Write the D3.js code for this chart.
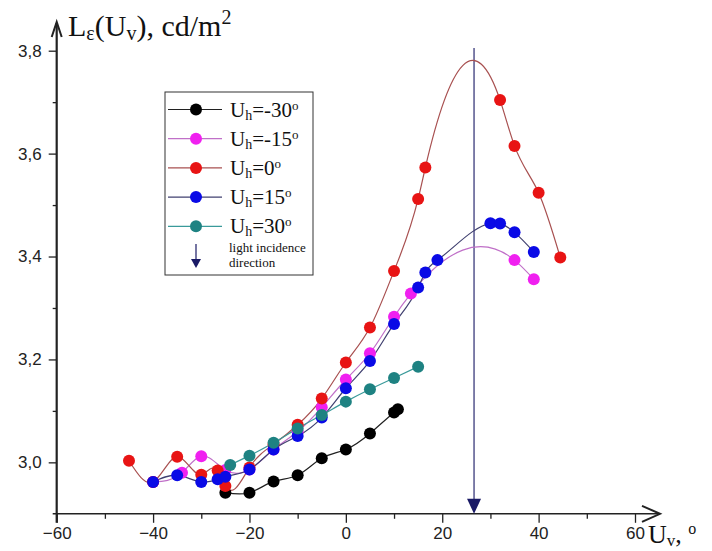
<!DOCTYPE html>
<html>
<head>
<meta charset="utf-8">
<script src="https://cdn.jsdelivr.net/npm/d3@7"></script>
<style>
  body { margin: 0; background: #fff; }
  svg { display: block; }
</style>
</head>
<body>
<div id="chart"></div>
<script>
// U_v angle (deg) and luminance (cd/m2) for each U_h series
const blackX = [-25, -20, -15, -10, -5, 0, 5, 10, 10.8];
const blackY = [2.941, 2.941, 2.963, 2.975, 3.008, 3.025, 3.056, 3.097, 3.103];

const magentaX = [-40, -34, -30, -25, -20, -15, -10, -5, 0, 5, 10, 13.5, 35, 39];
const magentaY = [2.962, 2.98, 3.012, 2.985, 2.986, 3.025, 3.06, 3.107, 3.161, 3.212, 3.283, 3.328, 3.393, 3.356];

const redX = [-45, -40, -35, -30, -26.6, -25, -20, -15, -10, -5, 0, 5, 10, 15, 16.5, 32, 35, 40, 44.5];
const redY = [3.003, 2.962, 3.011, 2.976, 2.984, 2.954, 2.99, 3.035, 3.073, 3.124, 3.194, 3.262, 3.372, 3.512, 3.573, 3.704, 3.615, 3.524, 3.398];

const blueX = [-40, -35, -30, -26.6, -25, -20, -15, -10, -5, 0, 5, 10, 15, 16.5, 19, 30, 32, 35, 39];
const blueY = [2.962, 2.975, 2.962, 2.967, 2.972, 2.986, 3.025, 3.051, 3.087, 3.144, 3.197, 3.269, 3.34, 3.369, 3.393, 3.4645, 3.464, 3.447, 3.409];

const tealX = [-24, -20, -15, -10, -5, 0, 5, 10, 15];
const tealY = [2.995, 3.013, 3.038, 3.066, 3.092, 3.118, 3.142, 3.164, 3.186];

const seriesNames = ["-30", "-15", "0", "15", "30"];
const lightDirection = 26.6;

const xTicks = [-60, -40, -20, 0, 20, 40, 60];
const xMinorTicks = [-50, -30, -10, 10, 30, 50];
const yTicks = [3.0, 3.2, 3.4, 3.6, 3.8];
const yMinorTicks = [3.1, 3.3, 3.5, 3.7];

const series = [
  { name: seriesNames[0], xs: blackX, ys: blackY, fill: "#000000", stroke: "#202020" },
  { name: seriesNames[1], xs: magentaX, ys: magentaY, fill: "#f020f0", stroke: "#c070c8" },
  { name: seriesNames[2], xs: redX, ys: redY, fill: "#e81414", stroke: "#a85050" },
  { name: seriesNames[3], xs: blueX, ys: blueY, fill: "#0a0ae6", stroke: "#404070" },
  { name: seriesNames[4], xs: tealX, ys: tealY, fill: "#1e8282", stroke: "#3a9a9a" },
];

// natural cubic spline of y over x (like Origin's "Spline" connect),
// emitted as bezier segments
function curveSplineX(context) {
  let xs, ys;
  return {
    areaStart() {},
    areaEnd() {},
    lineStart() { xs = []; ys = []; },
    point(px, py) { xs.push(+px); ys.push(+py); },
    lineEnd() {
      const n = xs.length;
      if (!n) return;
      context.moveTo(xs[0], ys[0]);
      if (n === 1) return;
      if (n === 2) { context.lineTo(xs[1], ys[1]); return; }
      const h = [];
      for (let i = 0; i < n - 1; i++) h.push(xs[i + 1] - xs[i]);
      // solve for second derivatives, natural ends
      const a = new Array(n).fill(0), b = new Array(n).fill(1), c = new Array(n).fill(0), r = new Array(n).fill(0);
      for (let i = 1; i < n - 1; i++) {
        a[i] = h[i - 1];
        b[i] = 2 * (h[i - 1] + h[i]);
        c[i] = h[i];
        r[i] = 6 * ((ys[i + 1] - ys[i]) / h[i] - (ys[i] - ys[i - 1]) / h[i - 1]);
      }
      for (let i = 1; i < n; i++) {
        const m = a[i] / b[i - 1];
        b[i] -= m * c[i - 1];
        r[i] -= m * r[i - 1];
      }
      const M = new Array(n).fill(0);
      M[n - 1] = r[n - 1] / b[n - 1];
      for (let i = n - 2; i >= 0; i--) M[i] = (r[i] - c[i] * M[i + 1]) / b[i];
      for (let i = 0; i < n - 1; i++) {
        const s = (ys[i + 1] - ys[i]) / h[i];
        const d0 = s - h[i] * (2 * M[i] + M[i + 1]) / 6;
        const d1 = s + h[i] * (M[i] + 2 * M[i + 1]) / 6;
        const k = h[i] / 3;
        context.bezierCurveTo(xs[i] + k, ys[i] + d0 * k, xs[i + 1] - k, ys[i + 1] - d1 * k, xs[i + 1], ys[i + 1]);
      }
    },
  };
}

const width = 712;
const height = 551;

const svg = d3
  .select("#chart")
  .append("svg")
  .attr("width", width)
  .attr("height", height);

const x = d3.scaleLinear().domain([-60, 60]).range([56.7, 635]);
const y = d3.scaleLinear().domain([2.9, 3.8]).range([513.8, 50.7]);

const comma = d3.formatLocale({ decimal: ",", thousands: " ", grouping: [3], currency: ["", ""] });
const fmtY = comma.format(".1f");

// axes
const xAxis = svg
  .append("g")
  .attr("transform", `translate(0,${y(2.9)})`)
  .call(d3.axisBottom(x).tickValues(xTicks).tickSize(9).tickSizeOuter(0).tickPadding(4));
xAxis.select(".domain").remove();
xAxis.selectAll("line").attr("stroke", "#222").attr("stroke-width", 1.3);
xAxis.selectAll("text")
  .attr("font-family", "Liberation Sans, Arial, sans-serif")
  .attr("font-size", 17)
  .attr("fill", "#222");

svg
  .append("g")
  .attr("transform", `translate(0,${y(2.9)})`)
  .call(d3.axisBottom(x).tickValues(xMinorTicks).tickSize(5).tickFormat(""))
  .call((g) => g.select(".domain").remove())
  .selectAll("line")
  .attr("stroke", "#222")
  .attr("stroke-width", 1.3);

const yAxis = svg
  .append("g")
  .attr("transform", `translate(${x(-60)},0)`)
  .call(d3.axisLeft(y).tickValues(yTicks).tickFormat(fmtY).tickSize(8).tickPadding(7));
yAxis.select(".domain").remove();
yAxis.selectAll("line").attr("stroke", "#222").attr("stroke-width", 1.3);
yAxis.selectAll("text")
  .attr("font-family", "Liberation Sans, Arial, sans-serif")
  .attr("font-size", 17)
  .attr("fill", "#222");

svg
  .append("g")
  .attr("transform", `translate(${x(-60)},0)`)
  .call(d3.axisLeft(y).tickValues(yMinorTicks).tickSize(4).tickFormat(""))
  .call((g) => g.select(".domain").remove())
  .selectAll("line")
  .attr("stroke", "#222")
  .attr("stroke-width", 1.3);

// axis lines with open arrow heads
const x0 = x(-60);
const y0 = y(2.9);
svg.append("line")
  .attr("x1", x0 - 4).attr("y1", y0).attr("x2", 659).attr("y2", y0)
  .attr("stroke", "#222").attr("stroke-width", 1.6);
svg.append("path")
  .attr("d", `M642,${y0 - 8}L660,${y0}L642,${y0 + 8}`)
  .attr("fill", "none").attr("stroke", "#222").attr("stroke-width", 2);
svg.append("line")
  .attr("x1", x0).attr("y1", y0 + 9).attr("x2", x0).attr("y2", 23)
  .attr("stroke", "#222").attr("stroke-width", 2.2);
svg.append("path")
  .attr("d", `M${x0 - 5},37L${x0},22L${x0 + 5},37`)
  .attr("fill", "none").attr("stroke", "#222").attr("stroke-width", 2);

// axis titles
const serif = "Liberation Serif, Times New Roman, serif";
const yTitle = svg.append("text")
  .attr("x", 68).attr("y", 36)
  .attr("font-family", serif).attr("font-size", 30).attr("fill", "#111");
yTitle.append("tspan").text("L");
yTitle.append("tspan").attr("font-size", 20).attr("dy", 4).text("ε");
yTitle.append("tspan").attr("dy", -4).text("(U");
yTitle.append("tspan").attr("font-size", 20).attr("dy", 4).text("v");
yTitle.append("tspan").attr("dy", -4).text("), cd/m");
yTitle.append("tspan").attr("font-size", 20).attr("dy", -12).text("2");

const xTitle = svg.append("text")
  .attr("x", 648).attr("y", 543)
  .attr("font-family", serif).attr("font-size", 26).attr("fill", "#111");
xTitle.append("tspan").text("U");
xTitle.append("tspan").attr("font-size", 17).attr("dy", 3).text("v");
xTitle.append("tspan").attr("dy", -3).text(", ");
xTitle.append("tspan").attr("font-size", 16).attr("dy", -9).text("o");

// light incidence direction
svg.append("line")
  .attr("x1", x(lightDirection)).attr("y1", 48)
  .attr("x2", x(lightDirection)).attr("y2", y0 - 12)
  .attr("stroke", "#2a2a70").attr("stroke-width", 1.2);
svg.append("path")
  .attr("d", `M${x(lightDirection) - 7},${y0 - 15}L${x(lightDirection) + 7},${y0 - 15}L${x(lightDirection)},${y0}Z`)
  .attr("fill", "#1a1a66");

// series lines and markers
const line = d3.line()
  .x((d) => x(d[0]))
  .y((d) => y(d[1]))
  .curve(curveSplineX);

series.forEach((s) => {
  const pts = s.xs.map((v, i) => [v, s.ys[i]]);
  svg.append("path")
    .datum(pts)
    .attr("d", line)
    .attr("fill", "none")
    .attr("stroke", s.stroke)
    .attr("stroke-width", 1.2);
});

series.forEach((s) => {
  const pts = s.xs.map((v, i) => [v, s.ys[i]]);
  svg.append("g")
    .selectAll("circle")
    .data(pts)
    .enter()
    .append("circle")
    .attr("cx", (d) => x(d[0]))
    .attr("cy", (d) => y(d[1]))
    .attr("r", 6)
    .attr("fill", s.fill);
});

// legend
const legend = svg.append("g");
legend.append("rect")
  .attr("x", 165).attr("y", 92).attr("width", 148).attr("height", 183)
  .attr("fill", "#fff").attr("stroke", "#333").attr("stroke-width", 1);

series.forEach((s, i) => {
  const ly = 109.5 + i * 29.2;
  legend.append("line")
    .attr("x1", 168).attr("x2", 222).attr("y1", ly).attr("y2", ly)
    .attr("stroke", s.stroke).attr("stroke-width", 1.2);
  legend.append("circle")
    .attr("cx", 196).attr("cy", ly).attr("r", 6).attr("fill", s.fill);
  const t = legend.append("text")
    .attr("x", 230).attr("y", ly + 7)
    .attr("font-family", serif).attr("font-size", 21).attr("fill", "#111");
  t.append("tspan").text("U");
  t.append("tspan").attr("font-size", 14).attr("dy", 3).text("h");
  t.append("tspan").attr("dy", -3).text("=" + s.name);
  t.append("tspan").attr("font-size", 13).attr("dy", -7).text("o");
});

legend.append("line")
  .attr("x1", 196).attr("x2", 196).attr("y1", 244).attr("y2", 260)
  .attr("stroke", "#1a1a66").attr("stroke-width", 1.2);
legend.append("path")
  .attr("d", "M191,259L201,259L196,268Z")
  .attr("fill", "#1a1a66");
legend.append("text")
  .attr("x", 229).attr("y", 252)
  .attr("font-family", serif).attr("font-size", 13).attr("fill", "#111")
  .text("light incidence");
legend.append("text")
  .attr("x", 229).attr("y", 267)
  .attr("font-family", serif).attr("font-size", 13).attr("fill", "#111")
  .text("direction");
</script>
</body>
</html>
